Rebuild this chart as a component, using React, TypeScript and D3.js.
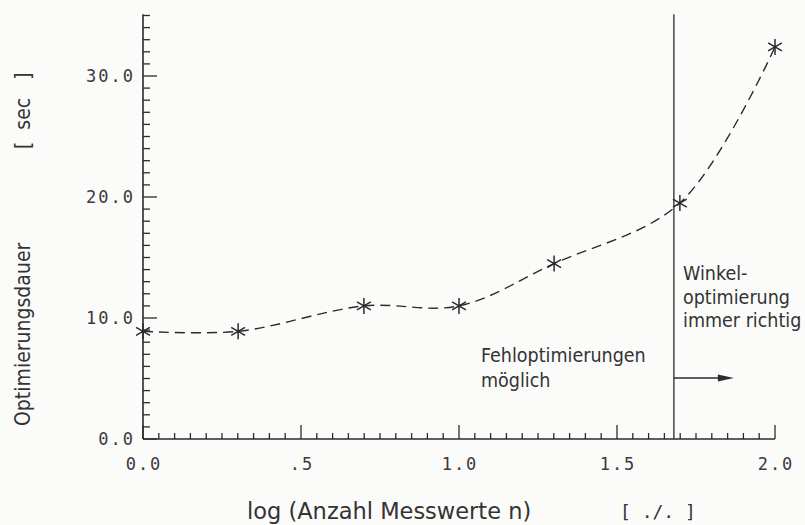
import React from "react";
import * as d3 from "d3";

const xValues = [0, 0.301, 0.699, 1.0, 1.301, 1.699, 2.0];
const yValues = [8.9, 8.9, 11.0, 11.0, 14.5, 19.5, 32.4];
const xTickValues = [0, 0.5, 1.0, 1.5, 2.0];
const xTickLabels = ["0.0", ".5", "1.0", "1.5", "2.0"];
const yTickValues = [0, 10, 20, 30];
const yTickLabels = ["0.0", "10.0", "20.0", "30.0"];
const boundaryX = [1.68];
const leftNote = ["Fehloptimierungen", "möglich"];
const rightNote = ["Winkel-", "optimierung", "immer richtig"];

const W = 805, H = 525;
const ink = "#2b2b2b";
const labelFont = "'DejaVu Sans Condensed', 'DejaVu Sans', sans-serif";
const titleFont = "'DejaVu Sans', sans-serif";
const tickFont = "'DejaVu Sans Mono', monospace";

export default function App() {
  const x = d3.scaleLinear().domain([0, 2]).range([143, 775]);
  const y = d3.scaleLinear().domain([0, 10]).range([439, 318]);
  const yTop = 35.1;

  const minorX = d3.range(0, 2.0001, 0.05);
  const minorY = d3.range(0, 35.0001, 1);

  const line = d3
    .line<number>()
    .x((_, i) => x(xValues[i]))
    .y((d) => y(d))
    .curve(d3.curveCatmullRom.alpha(0.5));

  const star = (cx: number, cy: number, r: number) => {
    const segs: string[] = [];
    for (const a of [90, 30, 150]) {
      const rad = (a * Math.PI) / 180;
      const dx = Math.cos(rad) * r, dy = Math.sin(rad) * r;
      segs.push(`M${cx - dx},${cy - dy}L${cx + dx},${cy + dy}`);
    }
    return segs.join("");
  };

  const bx = x(boundaryX[0]);
  const arrowY = 378;

  return (
    <svg width={W} height={H} style={{ position: "absolute", left: 0, top: 0, background: "#fbfbfa" }}>
      <rect width={W} height={H} fill="#fbfbfa" />
      {/* axes */}
      <line x1={x(0)} x2={x(0)} y1={y(0)} y2={y(yTop)} stroke={ink} strokeWidth={1.6} />
      <line x1={x(0)} x2={x(2)} y1={y(0)} y2={y(0)} stroke={ink} strokeWidth={1.6} />
      {minorY.map((v) => {
        const major = Math.round(v) % 10 === 0;
        return (
          <line key={"yt" + v} x1={x(0)} x2={x(0) + (major ? 14 : 7)} y1={y(v)} y2={y(v)} stroke={ink} strokeWidth={1.3} />
        );
      })}
      {minorX.map((v, i) => {
        const major = i % 10 === 0;
        return (
          <line key={"xt" + i} x1={x(v)} x2={x(v)} y1={y(0)} y2={y(0) - (major ? 14 : 6)} stroke={ink} strokeWidth={1.3} />
        );
      })}
      {yTickValues.map((v, i) => (
        <text key={"yl" + i} x={x(0) - 8} y={y(v) + 6} textAnchor="end" fontFamily={tickFont} fontSize={17} letterSpacing={2} fill="#3a3a3a">
          {yTickLabels[i]}
        </text>
      ))}
      {xTickValues.map((v, i) => (
        <text key={"xl" + i} x={x(v) + 1} y={y(0) + 31} textAnchor="middle" fontFamily={tickFont} fontSize={17} letterSpacing={2} fill="#3a3a3a">
          {xTickLabels[i]}
        </text>
      ))}
      {/* boundary line */}
      <line x1={bx} x2={bx} y1={y(0)} y2={y(yTop)} stroke={ink} strokeWidth={1.3} />
      {/* arrow */}
      <line x1={bx} x2={bx + 46} y1={arrowY} y2={arrowY} stroke={ink} strokeWidth={1.3} />
      <path d={`M${bx + 60},${arrowY}L${bx + 44},${arrowY - 3.5}L${bx + 44},${arrowY + 3.5}Z`} fill={ink} />
      {/* curve */}
      <path d={line(yValues) || ""} fill="none" stroke={ink} strokeWidth={1.4} strokeDasharray="10 6" />
      {yValues.map((v, i) => (
        <path key={"m" + i} d={star(x(xValues[i]), y(v), 8)} stroke={ink} strokeWidth={1.5} fill="none" />
      ))}
      {/* annotations */}
      {leftNote.map((t, i) => (
        <text key={"ln" + i} x={481} y={362 + i * 25} fontFamily={labelFont} fontStretch="condensed" fontSize={19.5} fill="#333">
          {t}
        </text>
      ))}
      {rightNote.map((t, i) => (
        <text key={"rn" + i} x={683} y={280 + i * 23.5} fontFamily={labelFont} fontStretch="condensed" fontSize={19.5} fill="#333">
          {t}
        </text>
      ))}
      {/* axis titles */}
      <text x={247} y={519} fontFamily={titleFont} fontSize={22.5} fill="#333">
        log (Anzahl Messwerte n)
      </text>
      <text x={620} y={518} fontFamily={tickFont} fontSize={18} fill="#333" style={{ whiteSpace: "pre" }}>
        {"[ ./. ]"}
      </text>
      <g transform="translate(30,0) rotate(-90)">
        <text x={-426} y={0} fontFamily={labelFont} fontStretch="condensed" fontSize={21} fill="#333">
          Optimierungsdauer
        </text>
        <text x={-149} y={0} fontFamily={labelFont} fontStretch="condensed" fontSize={21} fill="#333" style={{ whiteSpace: "pre" }}>
          {"[  sec   ]"}
        </text>
      </g>
    </svg>
  );
}
